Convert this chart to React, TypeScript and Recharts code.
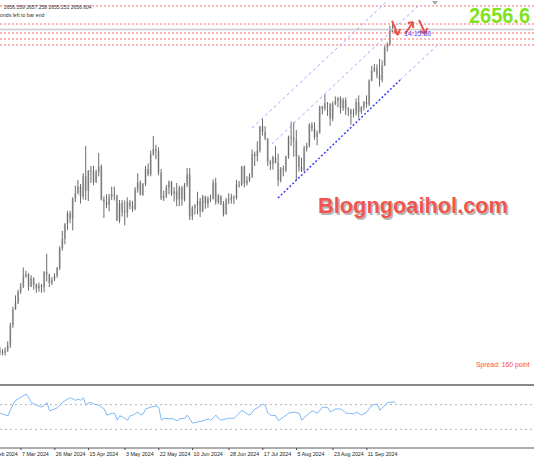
import React from 'react';
import { ComposedChart, Bar, Line, XAxis, YAxis, ReferenceLine } from 'recharts';

// ---- categories (trading days) ----
const febDays = [26, 27, 28, 29];
const marDays = [1, 4, 5, 6, 7, 8, 11, 12, 13, 14, 15, 18, 19, 20, 21, 22, 25, 26, 27, 28];
const aprDays = [1, 2, 3, 4, 5, 8, 9, 10, 11, 12, 15, 16, 17, 18, 19, 22, 23, 24, 25, 26, 29, 30];
const mayDays = [1, 2, 3, 6, 7, 8, 9, 10, 13, 14, 15, 16, 17, 20, 21, 22, 23, 24, 27, 28, 29, 30, 31];
const junDays = [3, 4, 5, 6, 7, 10, 11, 12, 13, 14, 17, 18, 19, 20, 21, 24, 25, 26, 27, 28];
const julDays = [1, 2, 3, 4, 5, 8, 9, 10, 11, 12, 15, 16, 17, 18, 19, 22, 23, 24, 25, 26, 29, 30, 31];
const augDays = [1, 2, 5, 6, 7, 8, 9, 12, 13, 14, 15, 16, 19, 20, 21, 22, 23, 26, 27, 28, 29, 30];
const sepDays = [2, 3, 4, 5, 6, 9, 10, 11, 12, 13, 16, 17, 18, 19, 20, 23, 24, 25, 26];

const dates: string[] = [
  ...febDays.map((d) => `${d} Feb 2024`),
  ...marDays.map((d) => `${d} Mar 2024`),
  ...aprDays.map((d) => `${d} Apr 2024`),
  ...mayDays.map((d) => `${d} May 2024`),
  ...junDays.map((d) => `${d} Jun 2024`),
  ...julDays.map((d) => `${d} Jul 2024`),
  ...augDays.map((d) => `${d} Aug 2024`),
  ...sepDays.map((d) => `${d} Sep 2024`),
];

// ---- series values (OHLC) ----
const opens = [
  2035, 2031, 2030, 2034, 2044, 2083, 2114, 2127, 2148, 2159,
  2178, 2182, 2158, 2174, 2162, 2155, 2160, 2157, 2186, 2181,
  2165, 2172, 2179, 2194, 2233, 2251, 2280, 2300, 2290, 2329,
  2339, 2352, 2333, 2372, 2344, 2383, 2383, 2361, 2380, 2391,
  2327, 2322, 2316, 2332, 2337, 2335, 2286, 2320, 2303, 2302,
  2322, 2314, 2309, 2346, 2360, 2336, 2357, 2386, 2376, 2415,
  2425, 2421, 2379, 2329, 2334, 2350, 2361, 2338, 2343, 2327,
  2350, 2327, 2355, 2376, 2294, 2311, 2316, 2324, 2304, 2333,
  2319, 2329, 2328, 2360, 2322, 2334, 2319, 2298, 2327, 2326,
  2332, 2330, 2356, 2356, 2391, 2358, 2364, 2371, 2415, 2411,
  2422, 2469, 2458, 2445, 2400, 2396, 2409, 2398, 2364, 2387,
  2384, 2411, 2448, 2446, 2442, 2410, 2390, 2383, 2426, 2431,
  2472, 2465, 2448, 2456, 2507, 2503, 2514, 2512, 2484, 2512,
  2518, 2524, 2504, 2520, 2503, 2500, 2493, 2495, 2516, 2497,
  2506, 2516, 2512, 2558, 2578, 2582, 2569, 2559, 2587, 2622,
  2628, 2657, 2656.36,
];
const highs = [
  2041, 2037, 2040, 2052, 2088, 2119, 2141, 2152, 2165, 2195,
  2189, 2184, 2180, 2176, 2164, 2166, 2163, 2188, 2222, 2183,
  2176, 2184, 2196, 2236, 2266, 2281, 2305, 2305, 2331, 2354,
  2365, 2357, 2378, 2431, 2384, 2392, 2392, 2385, 2417, 2395,
  2333, 2337, 2338, 2352, 2352, 2336, 2326, 2326, 2325, 2331,
  2326, 2324, 2351, 2378, 2364, 2359, 2392, 2397, 2422, 2450,
  2433, 2428, 2386, 2344, 2355, 2364, 2363, 2351, 2359, 2354,
  2353, 2359, 2388, 2388, 2315, 2318, 2342, 2330, 2336, 2334,
  2333, 2336, 2366, 2369, 2338, 2335, 2324, 2330, 2339, 2338,
  2335, 2365, 2363, 2392, 2393, 2372, 2378, 2424, 2420, 2440,
  2469, 2483, 2469, 2446, 2404, 2412, 2431, 2416, 2390, 2393,
  2412, 2451, 2478, 2477, 2462, 2413, 2408, 2431, 2437, 2475,
  2477, 2477, 2461, 2509, 2509, 2531, 2516, 2514, 2517, 2527,
  2526, 2527, 2524, 2525, 2506, 2503, 2503, 2523, 2529, 2508,
  2518, 2529, 2560, 2586, 2590, 2589, 2600, 2597, 2625, 2632,
  2664, 2670, 2657.26,
];
const lows = [
  2025, 2025, 2024, 2031, 2039, 2078, 2113, 2124, 2144, 2155,
  2175, 2150, 2157, 2152, 2146, 2148, 2146, 2147, 2168, 2157,
  2161, 2169, 2175, 2190, 2228, 2240, 2268, 2281, 2267, 2322,
  2337, 2319, 2327, 2326, 2324, 2359, 2355, 2359, 2372, 2325,
  2291, 2310, 2304, 2326, 2325, 2285, 2281, 2294, 2277, 2292,
  2308, 2303, 2306, 2340, 2335, 2334, 2353, 2372, 2372, 2412,
  2405, 2374, 2326, 2324, 2330, 2337, 2334, 2323, 2314, 2314,
  2315, 2323, 2351, 2287, 2287, 2298, 2298, 2293, 2302, 2309,
  2311, 2322, 2327, 2317, 2318, 2316, 2294, 2298, 2318, 2319,
  2318, 2327, 2350, 2353, 2350, 2354, 2361, 2369, 2392, 2401,
  2418, 2451, 2442, 2392, 2384, 2385, 2397, 2353, 2360, 2372,
  2380, 2406, 2431, 2410, 2364, 2381, 2380, 2382, 2420, 2428,
  2459, 2443, 2432, 2455, 2492, 2499, 2489, 2470, 2479, 2510,
  2506, 2494, 2499, 2491, 2489, 2472, 2486, 2490, 2485, 2493,
  2500, 2505, 2508, 2556, 2574, 2562, 2546, 2554, 2586, 2614,
  2625, 2652, 2655.25,
];
const closes = [
  2031, 2030, 2034, 2044, 2083, 2114, 2127, 2148, 2159, 2178,
  2182, 2158, 2174, 2162, 2155, 2160, 2157, 2186, 2181, 2165,
  2172, 2179, 2194, 2233, 2251, 2280, 2300, 2290, 2329, 2339,
  2352, 2333, 2372, 2344, 2383, 2383, 2361, 2380, 2391, 2327,
  2322, 2316, 2332, 2337, 2335, 2286, 2320, 2303, 2302, 2322,
  2314, 2309, 2346, 2360, 2336, 2357, 2386, 2376, 2415, 2425,
  2421, 2379, 2329, 2334, 2350, 2361, 2338, 2343, 2327, 2350,
  2327, 2355, 2376, 2294, 2311, 2316, 2324, 2304, 2333, 2319,
  2329, 2328, 2360, 2322, 2334, 2319, 2298, 2327, 2326, 2332,
  2330, 2356, 2356, 2391, 2358, 2364, 2371, 2415, 2411, 2422,
  2469, 2458, 2445, 2400, 2396, 2409, 2398, 2364, 2387, 2384,
  2411, 2448, 2446, 2442, 2410, 2390, 2383, 2426, 2431, 2472,
  2465, 2448, 2456, 2507, 2503, 2514, 2512, 2484, 2512, 2518,
  2524, 2504, 2520, 2503, 2500, 2493, 2495, 2516, 2497, 2506,
  2516, 2512, 2558, 2578, 2582, 2569, 2559, 2587, 2622, 2628,
  2657, 2657, 2656.6,
];

// ---- tick labels (bar index of each time label) ----
const tickIndex = [8, 21, 34, 48, 61, 74, 88, 101, 114, 128, 141];

// ---- oscillator sub-window (bar index, value) ----
const indIndex = [
  0, 3, 4, 5, 6, 8, 10, 11, 12, 14, 16, 18, 19, 21, 22, 24, 26, 27, 29, 30,
  31, 32, 33, 34, 35, 36, 38, 40, 41, 43, 44, 45, 46, 47, 49, 50, 51, 53, 54, 55,
  56, 58, 60, 61, 62, 63, 65, 66, 68, 69, 71, 72, 74, 76, 78, 80, 81, 83, 84, 85,
  87, 88, 90, 91, 93, 95, 96, 98, 99, 101, 102, 103, 104, 106, 107, 109, 111, 113, 115, 116,
  118, 120, 122, 124, 126, 127, 129, 131, 133, 134, 136, 137, 139, 141, 143, 145, 146, 148, 149, 150,
  152,
];
const indValues = [
  56, 52, 62, 71, 77, 82, 87, 81, 73, 69, 66, 73, 60, 63, 65, 74, 79, 81, 77, 79,
  77, 81, 69, 73, 73, 71, 69, 63, 53, 56, 56, 45, 52, 50, 45, 52, 53, 58, 53, 55,
  63, 66, 68, 65, 45, 48, 47, 48, 44, 47, 48, 53, 40, 42, 44, 47, 45, 53, 47, 45,
  47, 48, 48, 52, 61, 55, 53, 63, 65, 71, 68, 56, 53, 52, 44, 50, 56, 58, 56, 45,
  53, 60, 56, 66, 65, 58, 63, 63, 56, 56, 55, 58, 53, 58, 69, 71, 61, 69, 73, 74,
  74,
];
const indLevels = [70, 30];

// ---- horizontal price levels ----
const levelLines = [2702.4, 2667.4, 2650, 2638.3, 2626.7];
const bidPrice = 2656.6;
const ohlcText = '2656.359 2657.258 2655.251 2656.604';

// ---- channel lines (bar index, price) ----
const channelUpper = [{ x: 96.85, y: 2465.7 }, { x: 148.8, y: 2712 }];
const channelMid = [{ x: 104.5, y: 2434.6 }, { x: 160.7, y: 2702.4 }];
const channelLow = [{ x: 106.85, y: 2329.9 }, { x: 153.8, y: 2558.8 }];
const channelLowExt = [{ x: 153.8, y: 2558.8 }, { x: 169.1, y: 2630.6 }];

// ---- red hand-drawn arrows (bar index, price) ----
const arrowSegments = [
  [{ x: 150.7, y: 2673.3 }, { x: 153.0, y: 2646.1 }],
  [{ x: 153.0, y: 2646.1 }, { x: 151.5, y: 2653.9 }],
  [{ x: 153.0, y: 2646.1 }, { x: 153.8, y: 2657.7 }],
  [{ x: 155.7, y: 2648.0 }, { x: 158.8, y: 2671.3 }],
  [{ x: 158.8, y: 2671.3 }, { x: 156.8, y: 2669.4 }],
  [{ x: 158.8, y: 2671.3 }, { x: 158.8, y: 2659.7 }],
  [{ x: 161.1, y: 2675.2 }, { x: 163.5, y: 2648.0 }],
  [{ x: 163.5, y: 2648.0 }, { x: 161.5, y: 2653.9 }],
  [{ x: 163.5, y: 2648.0 }, { x: 164.2, y: 2659.7 }],
];

const X_DOMAIN: [number, number] = [-0.08, 205.3];
const Y_DOMAIN: [number, number] = [1969, 2714];

const bars = dates.map((d, i) => ({ i, d, o: opens[i], h: highs[i], l: lows[i], c: closes[i] }));
const ind = indIndex.map((i, k) => ({ i, v: indValues[k] }));

const FONT = '"Liberation Sans", Arial, sans-serif';

const OhlcShape = (props: any) => {
  const { x, y, width, height, payload } = props;
  if (!payload || !isFinite(x) || !isFinite(y)) return null;
  const cx = x + width / 2;
  const top = Math.min(y, y + height);
  const hgt = Math.abs(height);
  const { o, h, l, c } = payload;
  const span = h - l || 1;
  const yo = top + ((h - o) / span) * hgt;
  const yc = top + ((h - c) / span) * hgt;
  const bTop = Math.min(yo, yc);
  const bH = Math.max(Math.abs(yc - yo), 1);
  return (
    <g>
      <rect x={cx - 1} y={bTop} width={2} height={bH} fill="#c4c4c4" />
      <line x1={cx} x2={cx} y1={top} y2={top + Math.max(hgt, 1)} stroke="#6c6c6c" strokeWidth={1} />
    </g>
  );
};

const DateTick = (props: any) => {
  const { x, y, payload } = props;
  return (
    <g>
      <line x1={x} x2={x} y1={y} y2={y + 2} stroke="#444" strokeWidth={1} />
      <text x={x + 1} y={y + 7.5} fontSize={5.3} fill="#222" fontFamily={FONT} textAnchor="start">
        {dates[payload.value]}
      </text>
    </g>
  );
};

export default function App() {
  return (
    <div style={{ position: 'fixed', left: 0, top: 0, width: 534, height: 462, background: '#fff', overflow: 'hidden' }}>
      <div style={{ position: 'absolute', left: 0, top: 0 }}>
        <ComposedChart width={534} height={384} data={bars} margin={{ top: 0, right: 0, bottom: 0, left: 0 }}>
          <XAxis dataKey="i" type="number" domain={X_DOMAIN} hide allowDataOverflow />
          <YAxis type="number" domain={Y_DOMAIN} hide allowDataOverflow />
          {levelLines.map((v) => (
            <ReferenceLine key={v} y={v} stroke="#ff6b6b" strokeDasharray="2 2" strokeWidth={1} />
          ))}
          <ReferenceLine y={bidPrice} stroke="#c9c9c9" strokeWidth={1.5} />
          <ReferenceLine segment={channelUpper} stroke="#a3a3ff" strokeDasharray="3 3" strokeWidth={1} />
          <ReferenceLine segment={channelMid} stroke="#a3a3ff" strokeDasharray="3 3" strokeWidth={1} />
          <ReferenceLine segment={channelLowExt} stroke="#a3a3ff" strokeDasharray="3 3" strokeWidth={1} />
          <ReferenceLine segment={channelLow} stroke="#3d3dff" strokeDasharray="2 2" strokeWidth={1.5} />
          <Bar
            dataKey={(d: any) => [d.l, d.h]}
            shape={<OhlcShape />}
            barSize={2}
            isAnimationActive={false}
          />
          {arrowSegments.map((s, k) => (
            <ReferenceLine key={'a' + k} segment={s} stroke="#e8544a" strokeWidth={2} />
          ))}
        </ComposedChart>
      </div>
      <div style={{ position: 'absolute', left: 0, top: 384, width: 534, height: 2, background: '#878787' }} />
      <div style={{ position: 'absolute', left: 0, top: 386 }}>
        <ComposedChart width={534} height={76} data={ind} margin={{ top: 0, right: 0, bottom: 0, left: 0 }}>
          <XAxis
            dataKey="i"
            type="number"
            domain={X_DOMAIN}
            allowDataOverflow
            ticks={tickIndex}
            interval={0}
            height={14}
            axisLine={{ stroke: '#5a5a5a' }}
            tickLine={false}
            tickSize={0}
            tickMargin={0}
            tick={<DateTick />}
          />
          <YAxis type="number" domain={[0, 100]} hide allowDataOverflow />
          {indLevels.map((v) => (
            <ReferenceLine key={v} y={v} stroke="#b8b8b8" strokeDasharray="2 3" strokeWidth={1} />
          ))}
          <Line dataKey="v" stroke="#7db9f7" strokeWidth={1} dot={false} isAnimationActive={false} type="linear" />
        </ComposedChart>
      </div>
      <svg width={534} height={462} style={{ position: 'absolute', left: 0, top: 0, pointerEvents: 'none' }}>
        <text x={4} y={8.5} fontSize={5} fill="#333" fontFamily={FONT}>{ohlcText}</text>
        <text x={0} y={16.5} fontSize={5.2} fill="#333" fontFamily={FONT}>onds left to bar end</text>
        <polygon points="432,1 438,1 435,5" fill="#a8a8a8" />
        <text x={469} y={23} fontSize={21.5} fontWeight="bold" fill="#7fe31f" fontFamily={FONT} textLength={61} lengthAdjust="spacingAndGlyphs">2656.6</text>
        <text x={404} y={35.5} fontSize={7} fill="#4a4aff" fontFamily={FONT}>14:15:50</text>
        <text x={319.5} y={214.5} fontSize={22} fontWeight="bold" fill="#9a9a9a" opacity={0.7} fontFamily={FONT} textLength={190} lengthAdjust="spacingAndGlyphs">Blogngoaihol.com</text>
        <text x={318} y={213} fontSize={22} fontWeight="bold" fill="#f0564e" fontFamily={FONT} textLength={190} lengthAdjust="spacingAndGlyphs">Blogngoaihol.com</text>
        <text x={476} y={367} fontSize={6.8} fill="#ff4a4a" fontFamily={FONT}>Spread: 160 point</text>
        <text x={-12} y={455.5} fontSize={5.3} fill="#222" fontFamily={FONT}>19 Feb 2024</text>
      </svg>
    </div>
  );
}
